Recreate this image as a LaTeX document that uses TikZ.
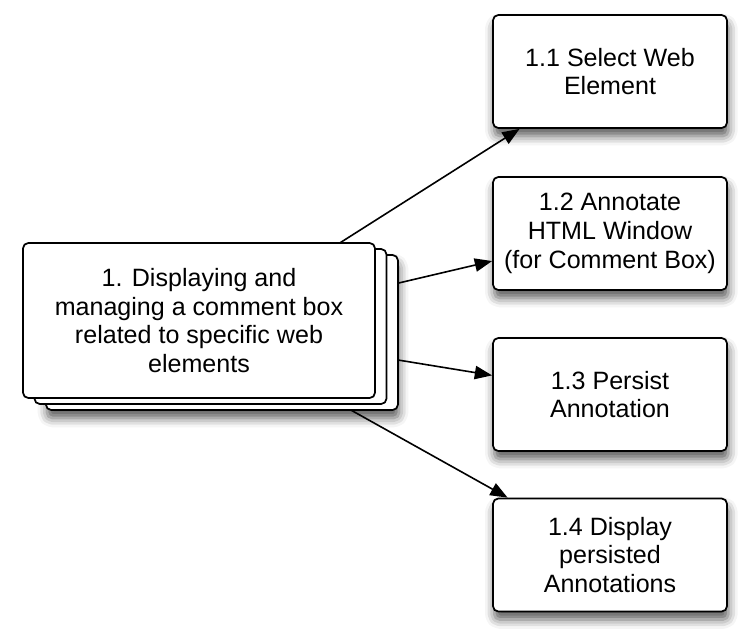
\documentclass[tikz,border=0pt]{standalone}
\usepackage{fontspec}
\setmainfont{Liberation Sans}
\usetikzlibrary{arrows.meta,shadows,shadows.blur,backgrounds}

\begin{document}
\begin{tikzpicture}[x=0.75pt,y=-0.75pt,>={Triangle[length=13pt,width=10pt]},line cap=round,line join=round,
  task/.style={draw,fill=white,line width=1.3pt,rounded corners=4pt,align=center,inner sep=0pt,
    font=\fontsize{18.8}{21.5}\selectfont,minimum width=175.5pt,minimum height=84.75pt},
  soft/.style={blur shadow={shadow xshift=1pt,shadow yshift=-6pt,shadow blur radius=7pt,shadow opacity=65}},
  sheet/.style={copy shadow={shadow xshift=#1*8.6pt,shadow yshift=-#1*4.5pt,fill=white,draw=black,line width=1.3pt}}]
\useasboundingbox (0,0) rectangle (750,643);
% stacked main task
\node[task,minimum width=264pt,minimum height=116.25pt,
  blur shadow={shadow xshift=18pt,shadow yshift=-15pt,shadow blur radius=7pt,shadow opacity=65},
  sheet=2,sheet=1] (main) at (199,320.5)
  {1. Displaying and\\managing a comment box\\related to specific web\\elements};
% sub tasks
\foreach \n/\y/\t in {sel/71.5/{1.1 Select Web\\Element},
                      ann/233.5/{1.2 Annotate\\HTML Window\\(for Comment Box)},
                      per/394.5/{1.3 Persist\\Annotation},
                      dis/555/{1.4 Display\\persisted\\Annotations}}
  {\node[task,soft] (\n) at (610,\y) {\t};}
\begin{pgfonlayer}{background}
\foreach \n in {sel,ann,per,dis} {\draw[->,line width=1.2pt] ([shift={(6,8)}]main.center) -- (\n);}
\end{pgfonlayer}
\end{tikzpicture}
\end{document}
